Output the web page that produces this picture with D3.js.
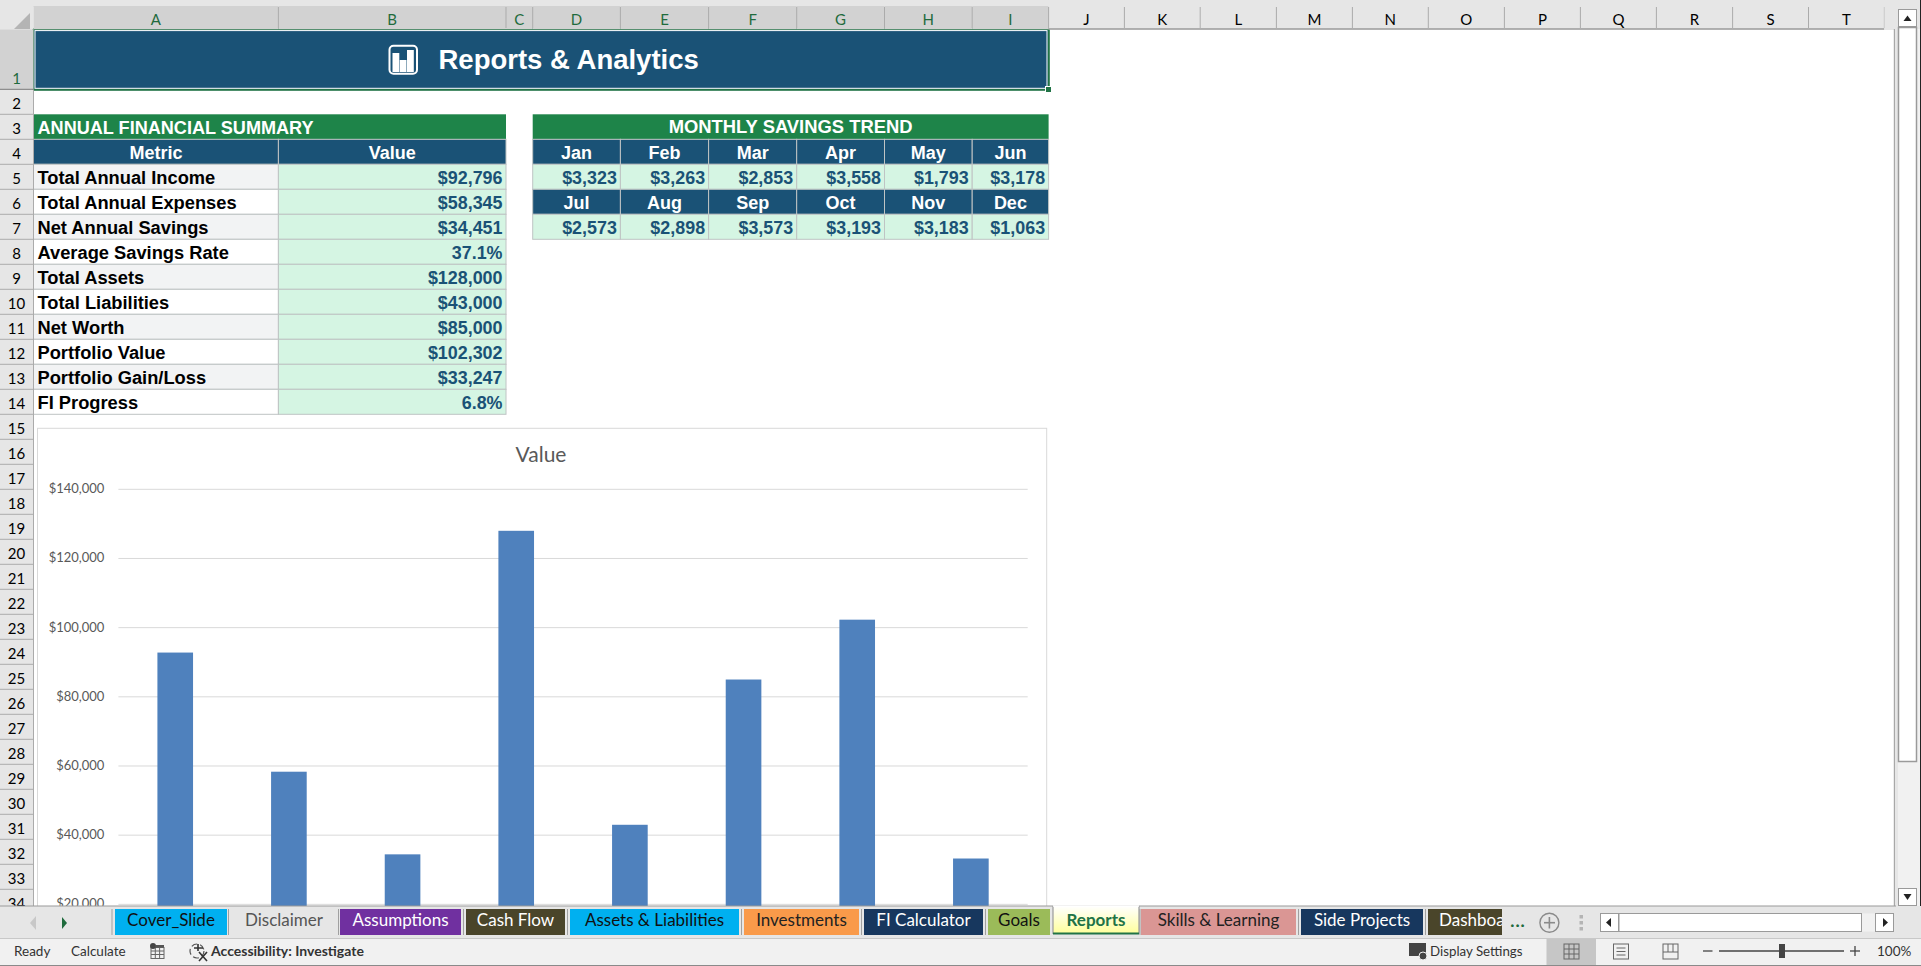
<!DOCTYPE html>
<html><head><meta charset="utf-8">
<style>html,body{margin:0;padding:0;background:#fff;overflow:hidden}svg{display:block}text{white-space:pre}</style>
<script src="https://cdn.jsdelivr.net/npm/d3@7"></script></head>
<body><svg id="sheet" width="1921" height="966"></svg>
<script>
const chartCategories = ["Total Annual Income","Total Annual Expenses","Net Annual Savings","Total Assets","Total Liabilities","Net Worth","Portfolio Value","Portfolio Gain/Loss"];
const chartValues = [92796,58345,34451,128000,43000,85000,102302,33247];
const yTicks = [20000,40000,60000,80000,100000,120000,140000];
const summaryMetrics = ["Total Annual Income","Total Annual Expenses","Net Annual Savings","Average Savings Rate","Total Assets","Total Liabilities","Net Worth","Portfolio Value","Portfolio Gain/Loss","FI Progress"];
const summaryValues = ["$92,796","$58,345","$34,451","37.1%","$128,000","$43,000","$85,000","$102,302","$33,247","6.8%"];
const monthsA = ["Jan","Feb","Mar","Apr","May","Jun"];
const savingsA = ["$3,323","$3,263","$2,853","$3,558","$1,793","$3,178"];
const monthsB = ["Jul","Aug","Sep","Oct","Nov","Dec"];
const savingsB = ["$2,573","$2,898","$3,573","$3,193","$3,183","$1,063"];
const colNames = ["A","B","C","D","E","F","G","H","I","J","K","L","M","N","O","P","Q","R","S","T"];
const colEdges = [33.5,278.4,506,532.7,620.4,708.6,796.7,884.5,972.2,1048.6,1124.4,1200.2,1276.4,1352.4,1428.3,1504.4,1580.4,1656.4,1732.6,1808.5,1884.4];
const tabNames = ["Cover_Slide","Disclaimer","Assumptions","Cash Flow","Assets & Liabilities","Investments","FI Calculator","Goals","Reports","Skills & Learning","Side Projects","Dashboa"];
const tabEdges = [[115,227],[230,338],[340,461],[466,565],[570,739],[744,859],[864,983],[988,1050],[1053,1139],[1141,1296],[1301,1423],[1428,1502]];
const tabFills = ["#00b0f0","none","#7030a0","#4a452a","#00b0f0","#f99a4a","#17375e","#9bbb59","url(#rep)","#da9694","#17375e","#4a452a"];
const tabInk = ["#111","#555","#fff","#fff","#111","#222","#fff","#111","#217346","#222","#fff","#fff"];

const UI = "Lato, 'Noto Sans', sans-serif", AR = "'Liberation Sans', Arial, sans-serif";
const svg = d3.select("#sheet");
const defs = svg.append("defs");
const g1 = defs.append("linearGradient").attr("id","rep").attr("x1",0).attr("y1",0).attr("x2",0).attr("y2",1);
g1.append("stop").attr("offset","0%").attr("stop-color","#ffffff");
g1.append("stop").attr("offset","100%").attr("stop-color","#ffff99");
defs.append("clipPath").attr("id","dashClip").append("rect").attr("x",1428).attr("y",906).attr("width",74).attr("height",32);

const rowTop = n => n===1 ? 29.3 : 89.3 + 25*(n-2);
const R=(p,x,y,w,h,f,s,sw)=>p.append("rect").attr("x",x).attr("y",y).attr("width",w).attr("height",h).attr("fill",f||"none").attr("stroke",s||"none").attr("stroke-width",sw||0);
const T=(p,t,x,y,o={})=>p.append("text").text(t).attr("x",x).attr("y",y).attr("dominant-baseline","central")
  .attr("text-anchor",o.a||"start").attr("font-family",o.f||AR).attr("font-size",o.s||18).attr("font-weight",o.w||"normal").attr("fill",o.c||"#000");
const L=(p,x1,y1,x2,y2,c,w)=>p.append("line").attr("x1",x1).attr("y1",y1).attr("x2",x2).attr("y2",y2).attr("stroke",c).attr("stroke-width",w||1);

/* ---------- sheet background ---------- */
R(svg,0,0,1921,966,"#ffffff");

/* ---------- chart ---------- */
const chart = svg.append("g").attr("id","chart");
R(chart,37.5,428.3,1009.2,560,"#fff","#d9d9d9",1);
T(chart,"Value",541,453,{a:"middle",f:UI,s:21,c:"#595959"});
const x = d3.scaleBand().domain(chartCategories).range([118.4,1027.7]).paddingInner(0.6865).paddingOuter(0.34325);
const y = d3.scaleLinear().domain([0,140000]).range([973.5,489.3]);
const axis = d3.axisLeft(y).tickValues(yTicks).tickSize(-909.3).tickPadding(14).offset(0).tickFormat(d3.format("$,"));
const ax = chart.append("g").attr("transform","translate(118.4,0)").call(axis);
ax.select(".domain").remove();
ax.selectAll(".tick line").attr("stroke","#d9d9d9").attr("stroke-width",1);
ax.selectAll(".tick text").attr("font-family",UI).attr("font-size",13).attr("fill","#595959").attr("dy","0.3em");
chart.selectAll(".bar").data(chartValues).join("rect").attr("class","bar")
  .attr("x",(d,i)=>x(chartCategories[i])).attr("width",x.bandwidth())
  .attr("y",d=>y(d)).attr("height",d=>y(0)-y(d)).attr("fill","#4f81bd");

/* ---------- title banner ---------- */
R(svg,33.5,29.3,1015,60,"#1a5276");
R(svg,33.2,29,1015.6,60.8,"none","#217346",2);
R(svg,35,30.6,1012,57.7,"none","#ffffff",1);
R(svg,1045.5,86.5,6,6,"#217346","#fff",1);
const icon = svg.append("g");
icon.append("rect").attr("x",389.5).attr("y",45.8).attr("width",27.5).attr("height",28).attr("rx",4).attr("fill","none").attr("stroke","#fff").attr("stroke-width",2);
const iconBars = [[392.5,53],[399.7,60],[407,50]];
icon.selectAll("rect.b").data(iconBars).join("rect").attr("class","b").attr("x",d=>d[0]).attr("y",d=>d[1]).attr("width",6.8).attr("height",d=>72-d[1]).attr("fill","#fff");
T(svg,"Reports & Analytics",438.5,59.5,{s:27.5,w:"bold",c:"#fff"});

/* ---------- summary table ---------- */
const BORDER="#bfc4c4";
R(svg,33.5,114.3,472.5,25,"#1e8449");
T(svg,"ANNUAL FINANCIAL SUMMARY",37.5,127.7,{s:18.1,w:"bold",c:"#fff"});
[[33.5,278.4,"Metric"],[278.4,506,"Value"]].forEach(c=>{
  R(svg,c[0],139.3,c[1]-c[0],25,"#1a5276",BORDER,1);
  T(svg,c[2],(c[0]+c[1])/2,152.5,{a:"middle",s:18,w:"bold",c:"#fff"});
});
const rows = svg.append("g");
const rowG = rows.selectAll("g").data(summaryMetrics).join("g").attr("transform",(d,i)=>`translate(0,${164.3+25*i})`);
rowG.append("rect").attr("x",33.5).attr("width",244.9).attr("height",25).attr("fill",(d,i)=>i%2?"#ffffff":"#f2f3f4").attr("stroke",BORDER);
rowG.append("rect").attr("x",278.4).attr("width",227.6).attr("height",25).attr("fill","#d5f5e3").attr("stroke",BORDER);
rowG.append("text").text(d=>d).attr("x",37.5).attr("y",13.5).attr("dominant-baseline","central").attr("font-family",AR).attr("font-size",18.3).attr("font-weight","bold").attr("fill","#000");
rowG.append("text").text((d,i)=>summaryValues[i]).attr("x",502.5).attr("y",13.5).attr("text-anchor","end").attr("dominant-baseline","central").attr("font-family",AR).attr("font-size",17.9).attr("font-weight","bold").attr("fill","#1a5276");

/* ---------- monthly table ---------- */
R(svg,532.7,114.3,515.9,25,"#1e8449");
T(svg,"MONTHLY SAVINGS TREND",790.6,126.7,{a:"middle",s:18.4,w:"bold",c:"#fff"});
const mEdges = colEdges.slice(3,10);
function monthBlock(names,vals,top){
  const g = svg.append("g");
  g.selectAll("rect.h").data(names).join("rect").attr("class","h").attr("x",(d,i)=>mEdges[i]).attr("y",top).attr("width",(d,i)=>mEdges[i+1]-mEdges[i]).attr("height",25).attr("fill","#1a5276").attr("stroke",BORDER);
  g.selectAll("text.h").data(names).join("text").attr("class","h").text(d=>d).attr("x",(d,i)=>(mEdges[i]+mEdges[i+1])/2).attr("y",top+13.2).attr("text-anchor","middle").attr("dominant-baseline","central").attr("font-family",AR).attr("font-size",18).attr("font-weight","bold").attr("fill","#fff");
  g.selectAll("rect.v").data(vals).join("rect").attr("class","v").attr("x",(d,i)=>mEdges[i]).attr("y",top+25).attr("width",(d,i)=>mEdges[i+1]-mEdges[i]).attr("height",25).attr("fill","#d5f5e3").attr("stroke",BORDER);
  g.selectAll("text.v").data(vals).join("text").attr("class","v").text(d=>d).attr("x",(d,i)=>mEdges[i+1]-3.5).attr("y",top+38.5).attr("text-anchor","end").attr("dominant-baseline","central").attr("font-family",AR).attr("font-size",17.9).attr("font-weight","bold").attr("fill","#1a5276");
}
monthBlock(monthsA,savingsA,139.3);
monthBlock(monthsB,savingsB,189.3);

/* ---------- headers ---------- */
R(svg,0,0,1921,7,"#e6e6e6");
const hdr = svg.append("g");
R(hdr,0,6,33.5,23.3,"#e6e6e6");
hdr.append("path").attr("d","M14,29 L30,29 L30,13 Z").attr("fill","#b4b4b4");
hdr.selectAll("rect.c").data(colNames).join("rect").attr("class","c").attr("x",(d,i)=>colEdges[i]).attr("y",6).attr("width",(d,i)=>colEdges[i+1]-colEdges[i]).attr("height",23.3).attr("fill",(d,i)=>i<9?"#d2d2d2":"#e6e6e6");
hdr.selectAll("line.c").data(colNames).join("line").attr("class","c").attr("x1",(d,i)=>colEdges[i+1]).attr("x2",(d,i)=>colEdges[i+1]).attr("y1",7).attr("y2",28).attr("stroke","#ababab");
hdr.selectAll("text.c").data(colNames).join("text").attr("class","c").text(d=>d).attr("x",(d,i)=>(colEdges[i]+colEdges[i+1])/2).attr("y",18.5).attr("text-anchor","middle").attr("dominant-baseline","central").attr("font-family",UI).attr("font-size",15).attr("fill",(d,i)=>i<9?"#1f6b3d":"#000");
L(hdr,1048.6,29,1884.4,29,"#9a9a9a",1.5);
R(hdr,1884.4,0,37,30,"#e6e6e6");
const rowNums = d3.range(1,35);
const rh = svg.append("g");
rh.selectAll("rect").data(rowNums).join("rect").attr("x",0).attr("y",rowTop).attr("width",33.5).attr("height",d=>rowTop(d+1)-rowTop(d)).attr("fill",d=>d===1?"#d2d2d2":"#e6e6e6");
rh.selectAll("line").data(rowNums).join("line").attr("x1",0).attr("x2",33.5).attr("y1",d=>rowTop(d+1)).attr("y2",d=>rowTop(d+1)).attr("stroke",d=>d===1?"#777":"#ababab");
rh.selectAll("text").data(rowNums).join("text").text(d=>d).attr("x",16.5).attr("y",d=>rowTop(d+1)-11.8).attr("text-anchor","middle").attr("dominant-baseline","central").attr("font-family",UI).attr("font-size",15).attr("fill",d=>d===1?"#1f6b3d":"#000");
L(rh,33.5,90,33.5,906,"#ababab",1);

/* ---------- vertical scrollbar ---------- */
R(svg,1894.4,29,26.6,877,"#f1f1f1");
R(svg,1895,0,25,29,"#e6e6e6");
L(svg,1894.4,29,1894.4,906,"#a8a8a8",1.2);
R(svg,1895,29,3,877,"#e6e6e6");
R(svg,1898.5,9.5,18,17,"#fff","#9a9a9a",1);
svg.append("path").attr("d","M1903.5,21 L1911.5,21 L1907.5,15.5 Z").attr("fill","#222");
R(svg,1898.5,27.5,18,734,"#fff","#9a9a9a",1.5);
R(svg,1898.5,888.5,18,17,"#fff","#9a9a9a",1);
svg.append("path").attr("d","M1903.5,894 L1911.5,894 L1907.5,900 Z").attr("fill","#222");
L(svg,1920.5,0,1920.5,966,"#222",1);

/* ---------- tab bar ---------- */
R(svg,0,906,1921,33,"#e6e6e6");
L(svg,0,906,1896,906,"#9a9a9a",1.2);
svg.append("path").attr("d","M36,916 L30,923 L36,930 Z").attr("fill","#c8c8c8");
svg.append("path").attr("d","M62,917 L67,923 L62,929 Z").attr("fill","#1f6b3d");
const seps=[112,228.5,338.5,463.5,567.5,741.5,861.5,985.5,1140,1298.5,1425.5];
svg.selectAll("line.sep").data(seps).join("line").attr("class","sep").attr("x1",d=>d).attr("x2",d=>d).attr("y1",909).attr("y2",935).attr("stroke","#a0a0a0");
const tabs = svg.append("g");
tabNames.forEach((n,i)=>{
  const [a,b]=tabEdges[i], active = n==="Reports";
  const g = tabs.append("g");
  if(active){
    R(g,a,906,b-a,28,"url(#rep)");
    L(g,a,906,a,934,"#9a9a9a",1.2); L(g,b,906,b,934,"#9a9a9a",1.2);
    L(g,a,906,b,906,"#ffffff",1.5); L(g,a,933.5,b,933.5,"#217346",2);
  } else if(tabFills[i]!=="none") R(g,a,909,b-a,26,tabFills[i]);
  const t=T(g,n,(a+b)/2,919.5,{a:"middle",f:UI,s:17,c:tabInk[i],w:active?"bold":"normal"});
  if(n==="Dashboa"){ t.attr("text-anchor","start").attr("x",1439).attr("clip-path","url(#dashClip)"); }
});
T(svg,"...",1517.5,918,{a:"middle",f:UI,s:22,c:"#1f6b3d"});
svg.append("circle").attr("cx",1549.4).attr("cy",922.7).attr("r",9.5).attr("fill","none").attr("stroke","#8a8a8a").attr("stroke-width",1.4);
L(svg,1544,922.7,1555,922.7,"#8a8a8a",1.6); L(svg,1549.4,917,1549.4,928.5,"#8a8a8a",1.6);
svg.selectAll("rect.dot").data([915,921,927]).join("rect").attr("class","dot").attr("x",1579.5).attr("y",d=>d).attr("width",3.5).attr("height",3.5).attr("fill","#b4b4b4");
R(svg,1600.5,913.5,293,18,"#f1f1f1");
R(svg,1600.5,913.5,18,18,"#fff","#9a9a9a",1);
R(svg,1619,913.5,242.5,18,"#fff","#9a9a9a",1);
R(svg,1875.5,913.5,18,18,"#fff","#9a9a9a",1);
svg.append("path").attr("d","M1611,918 L1606,922.5 L1611,927 Z").attr("fill","#222");
svg.append("path").attr("d","M1883,918 L1888,922.5 L1883,927 Z").attr("fill","#222");

/* ---------- status bar ---------- */
R(svg,0,938.5,1921,27.5,"#f1f1f1");
L(svg,0,938.5,1921,938.5,"#c8c8c8",1);
L(svg,0,965.5,1921,965.5,"#8a8a8a",1);
T(svg,"Ready",14,950.5,{f:UI,s:13.5,c:"#333"});
T(svg,"Calculate",71,950.5,{f:UI,s:13.5,c:"#333"});
const cal=svg.append("g");
R(cal,151,947.5,13,11,"#f1f1f1","#666",1);
[951,954.5].forEach(v=>L(cal,151,v,164,v,"#666",1));
[155.3,159.6].forEach(v=>L(cal,v,947.5,v,958.5,"#666",1));
R(cal,156,945,8,2.5,"#555");
cal.append("circle").attr("cx",153).attr("cy",946).attr("r",3).attr("fill","#444");
const ac=svg.append("g");
ac.append("circle").attr("cx",197).attr("cy",951).attr("r",7).attr("fill","none").attr("stroke","#555").attr("stroke-width",1.2).attr("stroke-dasharray","6 3");
ac.append("path").attr("d","M198,944 L198,951 M194,948 L203,948 M199,952 L207,961 M207,952 L199,961").attr("stroke","#333").attr("stroke-width",1.6).attr("fill","none");
T(svg,"Accessibility: Investigate",211,950.5,{f:UI,s:14,w:"bold",c:"#333"});
const ds=svg.append("g");
R(ds,1409,943,17,13,"#444");
ds.append("circle").attr("cx",1423).attr("cy",956).attr("r",4).attr("fill","#444").attr("stroke","#f1f1f1");
T(svg,"Display Settings",1430,950.5,{f:UI,s:13.3,c:"#333"});
R(svg,1546.5,939,49.5,26,"#c6c6c6");
const nv=svg.append("g");
R(nv,1564,944,15,15,"none","#666",1);
[1569,1574].forEach(v=>L(nv,v,944,v,959,"#666",1));
[949,954].forEach(v=>L(nv,1564,v,1579,v,"#666",1));
R(nv,1613.5,944,15,15,"none","#666",1);
[948,951.5,955].forEach(v=>L(nv,1616.5,v,1625.5,v,"#666",1));
R(nv,1663,944,15,15,"none","#666",1);
L(nv,1668,944,1668,952,"#666",1); L(nv,1673,944,1673,952,"#666",1); L(nv,1663,952,1678,952,"#666",1);
L(svg,1703,951,1712.5,951,"#444",1.3);
L(svg,1719,951,1844,951,"#444",1.3);
R(svg,1779,944,6,14,"#444");
L(svg,1850,951,1860,951,"#444",1.3); L(svg,1855,946,1855,956,"#444",1.3);
T(svg,"100%",1877,950.5,{f:UI,s:13.5,c:"#333"});
</script></body></html>
